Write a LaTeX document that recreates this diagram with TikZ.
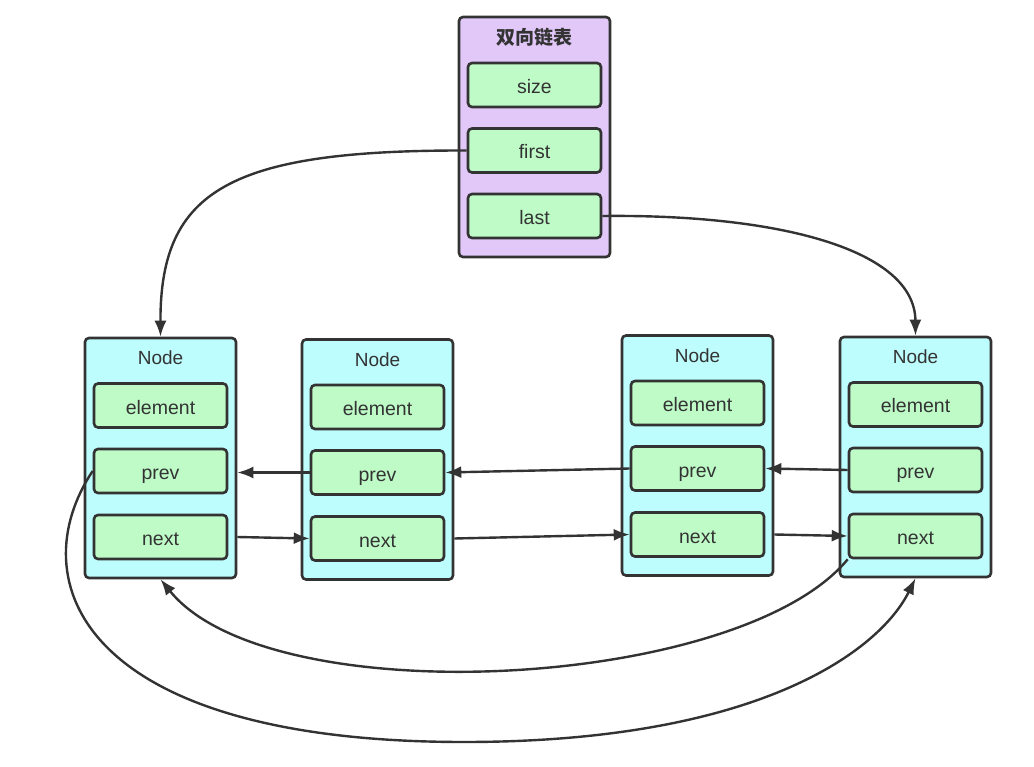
\documentclass[tikz,border=0pt]{standalone}
\usepackage{fontspec}
\setmainfont{Liberation Sans}
\newfontfamily\cjk{Noto Sans CJK SC}
\usetikzlibrary{arrows.meta, positioning}
\definecolor{linegray}{HTML}{333333}
\definecolor{listpurple}{HTML}{E1C8F9}
\definecolor{nodecyan}{HTML}{BEFDFD}
\definecolor{fieldgreen}{HTML}{BEFBC7}

\tikzset{
  box/.style={draw=linegray, line width=2.6pt, rounded corners=4pt,
    minimum width=151pt, minimum height=240pt, inner sep=0pt},
  field/.style={draw=linegray, line width=2.6pt, rounded corners=4pt, fill=fieldgreen,
    minimum width=133pt, minimum height=44pt, inner sep=0pt,
    text height=17pt, text depth=0pt,
    text=linegray, font=\fontsize{19.5}{22}\selectfont},
  caption/.style={text=linegray, anchor=base, inner sep=0pt, font=\fontsize{19}{22}\selectfont},
  link/.style={draw=linegray, line width=2.4pt, -{Latex[length=16pt, width=12pt]}}
}

\begin{document}
\begin{tikzpicture}[x=1pt, y=-1pt]
  \useasboundingbox (0,0) rectangle (1034,767);

  % List header
  \node[box, fill=listpurple] (list) at (534.5,137) {};
  \node[caption, font=\cjk\bfseries\fontsize{19}{22}\selectfont] (listtitle) at (534.5,45) {双向链表};
  \node[field] (size) at (534.5,85) {size};
  \node[field] (first) at (534.5,150.5) {first};
  \node[field] (last) at (534.5,216) {last};

  % Nodes
  \foreach \n/\x/\y in {n1/160.5/458, n2/377.5/459.5, n3/697.5/455.5, n4/915.5/457} {
    \node[box, fill=nodecyan] (\n) at (\x,\y) {};
    \node[caption] (\n t) at (\x,{\y-93}) {Node};
    \node[field] (\n e) at (\x,{\y-52.5}) {element};
    \node[field] (\n p) at (\x,{\y+13}) {prev};
    \node[field] (\n n) at (\x,{\y+79}) {next};
  }

  % Head and tail pointers
  \draw[link] (first.west) .. controls (230,150) and (160,190) .. (n1.north);
  \draw[link] (last.east) .. controls (780,214) and (915,250) .. (n4.north);

  % prev links
  \draw[link] (n2p.west) -- (n2p.west -| n1.east);
  \draw[link] (n3p.west) -- (n2p.east);
  \draw[link] (n4p.west) -- (n3p.east);

  % next links
  \draw[link] (n1.east |- n1n.east) -- (n2n.west);
  \draw[link] (n2.east |- n2n.east) -- (n3n.west);
  \draw[link] (n3.east |- n3n.east) -- (n4n.west);

  % Wrap-around links
  \draw[link] (n4n.south west) .. controls (740,690) and (270,715) .. (n1.south);
  \draw[link] (n1p.west) .. controls (20,580) and (80,742) .. (464,742)
    .. controls (760,742) and (880,650) .. (n4.south);
\end{tikzpicture}
\end{document}
